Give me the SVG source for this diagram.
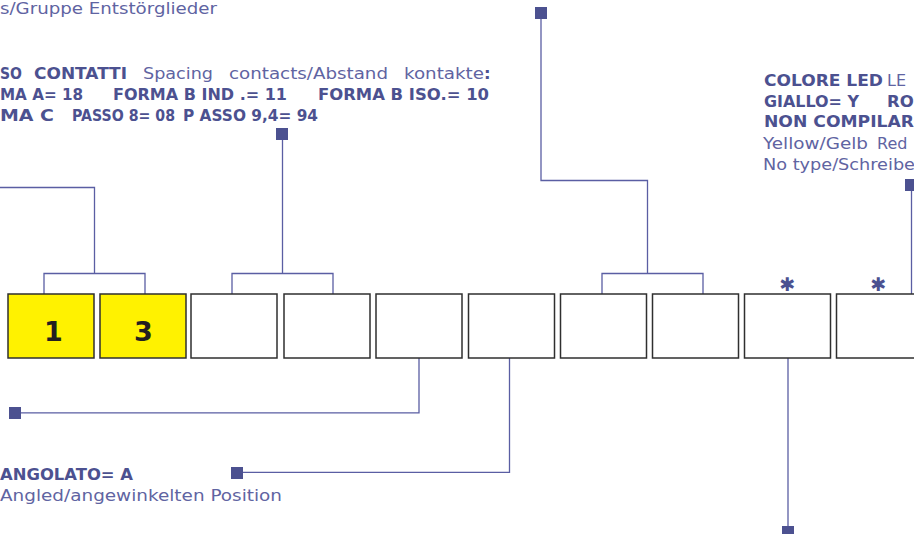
<svg xmlns="http://www.w3.org/2000/svg" width="914" height="534" viewBox="0 0 914 534">
<style>
.b{font-family:"DejaVu Sans","Liberation Sans",sans-serif;font-weight:bold;font-size:16.5px;fill:#4c5190}
.r{font-family:"DejaVu Sans","Liberation Sans",sans-serif;font-size:16px;fill:#5f64a2}
.box{fill:#ffffff;stroke:#2f2f2f;stroke-width:1.5}
.yel{fill:#fff200}
.num{font-family:"DejaVu Sans","Liberation Sans",sans-serif;font-weight:bold;font-size:27px;fill:#231f20;text-anchor:middle}
.ast{font-family:"DejaVu Sans","Liberation Sans",sans-serif;font-weight:bold;font-size:19px;fill:#4c5190;text-anchor:middle}
.ln{fill:none;stroke:#5a5ea3;stroke-width:1.3}
.sq{fill:#4c5190}
</style>
<rect width="914" height="534" fill="#ffffff"/>

<g id="connectors">
  <path class="ln" d="M44,294 V273.5 H145 V294 M94.5,273.5 V187.5 H0"/>
  <path class="ln" d="M232,294 V273.5 H333 V294 M282.5,273.5 V134"/>
  <path class="ln" d="M602,294 V273.5 H703 V294 M647.5,273.5 V180.5 H541 V13"/>
  <path class="ln" d="M911.5,294 V185"/>
  <path class="ln" d="M419,358 V412.8 H15"/>
  <path class="ln" d="M509.5,358 V472.3 H237"/>
  <path class="ln" d="M788,358 V530"/>
  <rect class="sq" x="535" y="7" width="12" height="12"/>
  <rect class="sq" x="276" y="128" width="12" height="12"/>
  <rect class="sq" x="905" y="179" width="12" height="12"/>
  <rect class="sq" x="9" y="407" width="12" height="12"/>
  <rect class="sq" x="231" y="467" width="12" height="12"/>
  <rect class="sq" x="782" y="526" width="12" height="12"/>
</g>

<g id="box1"><rect class="box yel" x="8" y="294" width="86" height="64"/><text class="num" x="53.5" y="341">1</text></g>
<g id="box2"><rect class="box yel" x="100" y="294" width="86" height="64"/><text class="num" x="143.5" y="341">3</text></g>
<g id="box3"><rect class="box" x="191" y="294" width="86" height="64"/></g>
<g id="box4"><rect class="box" x="284" y="294" width="86" height="64"/></g>
<g id="box5"><rect class="box" x="376" y="294" width="86" height="64"/></g>
<g id="box6"><rect class="box" x="468.5" y="294" width="86" height="64"/></g>
<g id="box7"><rect class="box" x="560.5" y="294" width="86" height="64"/></g>
<g id="box8"><rect class="box" x="652.5" y="294" width="86" height="64"/></g>
<g id="box9"><rect class="box" x="744.5" y="294" width="86" height="64"/><text class="ast" x="787.5" y="290.5">✱</text></g>
<g id="box10"><rect class="box" x="836.5" y="294" width="90" height="64"/><text class="ast" x="878.5" y="290.5">✱</text></g>

<g id="label-gruppe">
  <text class="r" x="0" y="13.5" textLength="217" lengthAdjust="spacingAndGlyphs">s/Gruppe Entstörglieder</text>
</g>

<g id="label-passo">
  <text class="b" x="0" y="79" textLength="22" lengthAdjust="spacingAndGlyphs">SO</text>
  <text class="b" x="34" y="79" textLength="93" lengthAdjust="spacingAndGlyphs">CONTATTI</text>
  <text class="r" x="143" y="79" textLength="70" lengthAdjust="spacingAndGlyphs">Spacing</text>
  <text class="r" x="229" y="79" textLength="159" lengthAdjust="spacingAndGlyphs">contacts/Abstand</text>
  <text class="r" x="404" y="79" textLength="80" lengthAdjust="spacingAndGlyphs">kontakte</text>
  <text class="b" x="484" y="79">:</text>
  <text class="b" x="0" y="100" textLength="83" lengthAdjust="spacingAndGlyphs">MA A= 18</text>
  <text class="b" x="113" y="100" textLength="174" lengthAdjust="spacingAndGlyphs">FORMA B IND .= 11</text>
  <text class="b" x="318" y="100" textLength="171" lengthAdjust="spacingAndGlyphs">FORMA B ISO.= 10</text>
  <text class="b" x="0" y="121" textLength="54" lengthAdjust="spacingAndGlyphs">MA C</text>
  <text class="b" x="72" y="121" textLength="103" lengthAdjust="spacingAndGlyphs">PASSO 8= 08</text>
  <text class="b" x="183" y="121" textLength="135" lengthAdjust="spacingAndGlyphs">P ASSO 9,4= 94</text>
</g>

<g id="label-led">
  <text class="b" x="764" y="86" textLength="119" lengthAdjust="spacingAndGlyphs">COLORE LED</text>
  <text class="r" x="887" y="86">LE</text>
  <text class="b" x="764" y="107" textLength="95" lengthAdjust="spacingAndGlyphs">GIALLO= Y</text>
  <text class="b" x="887" y="107">RO</text>
  <text class="b" x="764" y="127" textLength="150" lengthAdjust="spacingAndGlyphs">NON COMPILAR</text>
  <text class="r" x="763" y="149" textLength="105" lengthAdjust="spacingAndGlyphs">Yellow/Gelb</text>
  <text class="r" x="877" y="149">Red</text>
  <text class="r" x="763" y="170" textLength="152" lengthAdjust="spacingAndGlyphs">No type/Schreibe</text>
</g>

<g id="label-angolato">
  <text class="b" x="0" y="480" textLength="133" lengthAdjust="spacingAndGlyphs">ANGOLATO= A</text>
  <text class="r" x="0" y="501" textLength="282" lengthAdjust="spacingAndGlyphs">Angled/angewinkelten Position</text>
</g>
</svg>
